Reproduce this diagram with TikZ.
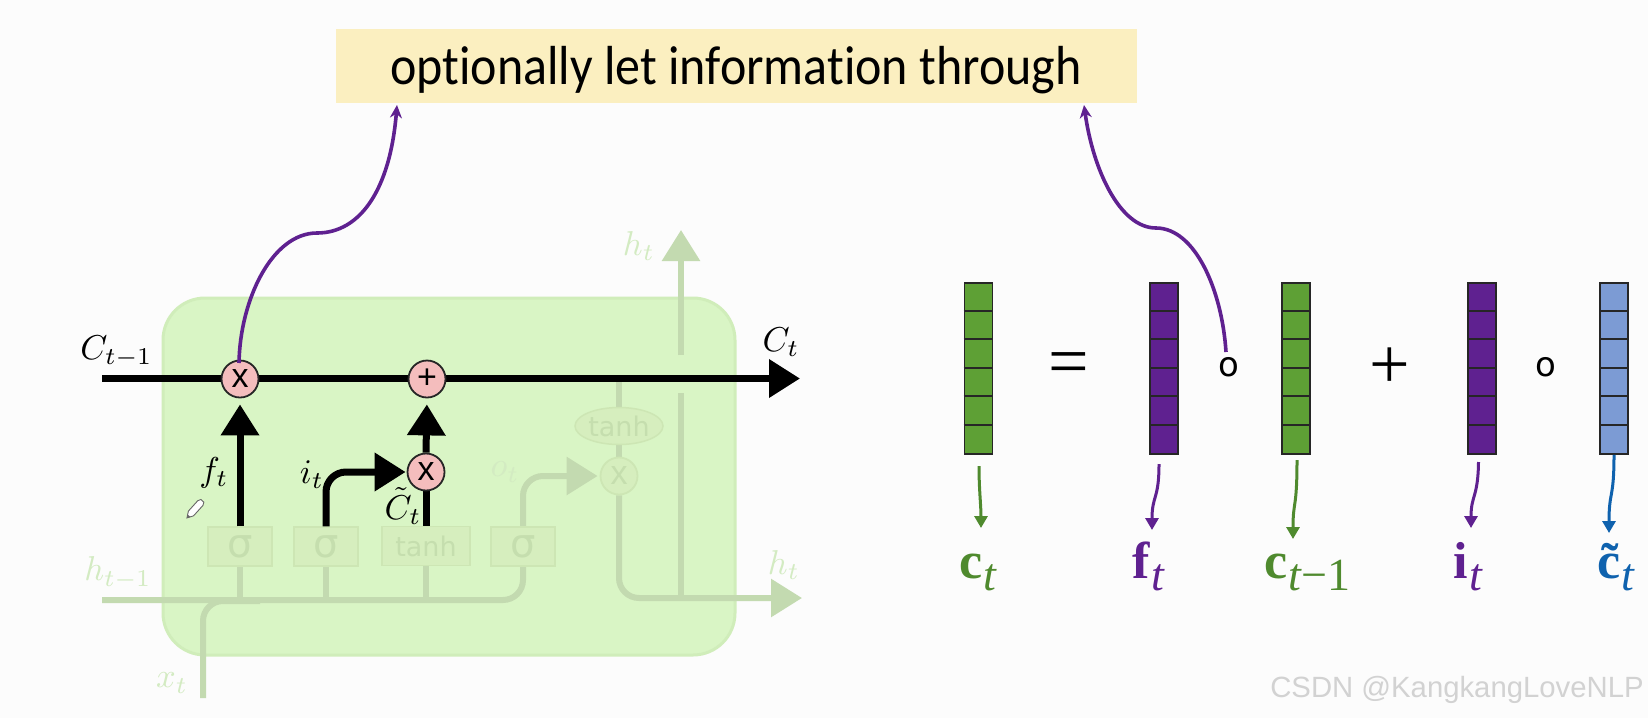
\documentclass[tikz,border=0pt]{standalone}
\usepackage{fontspec}
\setmainfont{Liberation Serif}
\newfontfamily\calfont[Ligatures=NoCommon]{Carlito}
\newfontfamily\dvfont{DejaVu Sans}
\newfontfamily\lsfont{Liberation Sans}
\usetikzlibrary{arrows.meta,shapes.geometric,calc}
\pgfdeclarelayer{back}
\pgfdeclarelayer{fline}
\pgfdeclarelayer{fnode}
\pgfdeclarelayer{bline}
\pgfsetlayers{back,fline,fnode,bline,main}
\definecolor{bgc}{HTML}{FCFCFC}
\definecolor{topc}{HTML}{FBEFC0}
\definecolor{cellc}{HTML}{D9F5C5}
\definecolor{celle}{HTML}{D0EDBA}
\definecolor{fadel}{HTML}{C3DAB0}
\definecolor{fadet}{HTML}{D3EBC2}
\definecolor{fadeb}{HTML}{D6EEBE}
\definecolor{fadee}{HTML}{CDE6B4}
\definecolor{fadetx}{HTML}{C5DEAE}
\definecolor{pinkc}{HTML}{F4BDBD}
\definecolor{purp}{HTML}{5F2190}
\definecolor{grnb}{HTML}{5EA035}
\definecolor{grnl}{HTML}{4F8A2E}
\definecolor{blub}{HTML}{7C9BD4}
\definecolor{blul}{HTML}{0F62AE}
\definecolor{wm}{HTML}{D2D2D2}
\tikzset{
  blk/.style={line width=7pt,black},
  blktip/.style={-{Triangle[length=31pt,width=37pt]}},
  fad/.style={line width=6pt,fadel},
  fadtip/.style={-{Triangle[length=31pt,width=37pt]}},
  opcirc/.style={circle,draw=black!85,line width=1.8pt,fill=pinkc,minimum size=37pt,inner sep=0pt,font=\lsfont\fontsize{34}{34}\selectfont},
  fadcirc/.style={circle,draw=fadee,line width=1.8pt,fill=fadeb,minimum size=37pt,inner sep=0pt,text=fadetx,font=\lsfont\fontsize{34}{34}\selectfont},
  fadbox/.style={rectangle,draw=fadee,line width=1.5pt,fill=fadeb,inner sep=0pt,minimum height=39pt,text=fadetx,font=\dvfont\fontsize{27}{27}\selectfont},
  sigbox/.style={fadbox,minimum width=64pt,font=\dvfont\fontsize{40}{40}\selectfont},
  mlab/.style={scale=3.45,inner sep=0pt},
  fadlab/.style={mlab,text=fadet},
  barc/.style={rectangle,draw=black!85,line width=1.6pt,minimum width=28pt,minimum height=171pt,inner sep=0pt},
  small/.style={line width=3pt,-{Triangle[length=12pt,width=13pt]}},
  bigsym/.style={inner sep=0pt,font=\fontsize{72}{72}\selectfont},
  ringsym/.style={inner sep=0pt,font=\dvfont\fontsize{34}{34}\selectfont},
  vlab/.style={inner sep=0pt,anchor=base west,font=\fontsize{52}{52}\selectfont\bfseries},
  curvep/.style={purp,line width=3.6pt,-{Stealth[length=13pt,width=12pt]}},
}
\newcommand{\cellgrid}[1]{%
  \foreach \k in {1,...,5} \draw[black!85,line width=1.6pt]
    ($(#1.north west)+(0,28.5*\k)$) -- ($(#1.north east)+(0,28.5*\k)$);}
\newcommand{\subt}[1]{{\normalfont\fontsize{46}{46}\selectfont\kern1.5pt\raisebox{-12pt}{#1}}}
\begin{document}
\begin{tikzpicture}[x=1pt,y=-1pt]
\useasboundingbox (0,0) rectangle (1648,718);
\begin{pgfonlayer}{back}
\fill[bgc] (0,0) rectangle (1648,718);
\node[rectangle,rounded corners=42pt,fill=cellc,draw=celle,line width=3pt,minimum width=572pt,minimum height=357pt] (cell) at (449,476.5) {};
\end{pgfonlayer}
% top banner
\node[rectangle,fill=topc,minimum width=801pt,minimum height=74pt,inner sep=0pt] (banner) at (736.5,66) {};
\node[inner sep=0pt,anchor=base,font=\calfont\fontsize{50}{50}\selectfont] (btext) at (736,84) {\scalebox{1}[1.1]{optionally let information through}};
% faded nodes
\begin{pgfonlayer}{fnode}
\node[sigbox] (s1) at (240,546.5) {σ};
\node[sigbox] (s2) at (326,546.5) {σ};
\node[fadbox,minimum width=88pt] (tanhb) at (426,546) {tanh};
\node[sigbox] (s3) at (523,546.5) {σ};
\node[ellipse,draw=fadee,line width=1.5pt,fill=fadeb,minimum width=88pt,minimum height=37pt,inner sep=0pt,text=fadetx,font=\dvfont\fontsize{27}{27}\selectfont] (tanhe) at (619,426) {tanh};
\node[fadcirc] (mul3) at (619,476) {x};
\end{pgfonlayer}
\coordinate (hl) at (102,600);
\coordinate (hr) at (802,598);
\coordinate (xb) at (203,698);
\coordinate (hj) at (681,598);
\coordinate (hgl) at (681,393);
\coordinate (hgu) at (681,355);
\coordinate (htop) at (681,230);
\coordinate (xj) at (260,601);
\coordinate (cl) at (102,378.5);
\coordinate (cr) at (800,378.5);
\begin{pgfonlayer}{fline}
\draw[fad,rounded corners=20pt] (hl) -- (523,600) -- (s3.south);
\draw[fad,rounded corners=20pt] (xb) -- (203,601) -- (xj);
\draw[fad] (s1.south) -- (240,600);
\draw[fad] (s2.south) -- (326,600);
\draw[fad] (tanhb.south) -- (426,600);
\draw[fad,rounded corners=20pt,fadtip] (mul3.south) -- (619,598) -- (hr);
\draw[fad] (hj) -- (hgl);
\draw[fad,fadtip] (hgu) -- (htop);
\draw[fad,rounded corners=20pt,fadtip,shorten >=2pt] (s3.north) |- (mul3.west);
\draw[fad] (tanhe.north) -- (619,382);
\draw[fad] (tanhe.south) -- (mul3.north);
\end{pgfonlayer}
% labels faded
\node[fadlab] (lho) at (118,573) {$h_{t-1}$};
\node[fadlab] (lx) at (172,683) {$x_t$};
\node[fadlab] (lo) at (505,472) {$o_t$};
\node[fadlab] (lh1) at (639,246) {$h_t$};
\node[fadlab] (lh2) at (784,565) {$h_t$};
% black
\node[opcirc] (mul1) at (240,379) {x};
\node[opcirc] (add) at (427,379) {+};
\node[opcirc] (mul2) at (426,472) {x};
\begin{pgfonlayer}{bline}
\draw[blk,blktip] (cl) -- (cr);
\draw[blk,blktip,shorten >=6pt] (s1.north) -- (mul1.south);
\draw[blk] (tanhb.north) -- (mul2.south);
\draw[blk,blktip,shorten >=6pt] (mul2.north) -- (add.south);
\draw[blk,blktip,rounded corners=20pt,shorten >=1pt] (s2.north) |- (mul2.west);
\end{pgfonlayer}
\node[mlab] (lc0) at (116.5,352) {$C_{t-1}$};
\node[mlab] (lf) at (214,473) {$f_t$};
\node[mlab] (li) at (312,475) {$i_t$};
\node[mlab] (lct) at (403,506) {$\tilde C_t$};
\node[mlab] (lc1) at (781,342) {$C_t$};
% pencil
\begin{scope}[shift={(195,509)},rotate=48]
\fill[white,draw=black!60,line width=.9pt] (-6,-3.5) -- (8,-3.5) -- (11,-2) -- (11,2) -- (8,3.5) -- (-6,3.5) -- (-12,0) -- cycle;
\fill[black!60] (-12,0) -- (-9,-1.6) -- (-9,1.6) -- cycle;
\end{scope}
% bars
\node[barc,fill=grnb] (b1) at (978.5,368.5) {};
\node[barc,fill=purp] (b2) at (1164,368.5) {};
\node[barc,fill=grnb] (b3) at (1296,368.5) {};
\node[barc,fill=purp] (b4) at (1482,368.5) {};
\node[barc,fill=blub] (b5) at (1614,368.5) {};
\cellgrid{b1}\cellgrid{b2}\cellgrid{b3}\cellgrid{b4}\cellgrid{b5}
\node[bigsym] (eq) at (1069,369) {=};
\node[bigsym] (pl) at (1390,368) {+};
\node[ringsym] (o1) at (1229,367) {o};
\node[ringsym] (o2) at (1546,367) {o};
% vector labels
\node[vlab,text=grnl] (vc) at (959,578) {c\subt{\itshape t}};
\node[vlab,text=purp] (vf) at (1132,578) {f\subt{\itshape t}};
\node[vlab,text=grnl] (vc1) at (1264,578) {c\subt{\itshape t\upshape −1}};
\node[vlab,text=purp] (vi) at (1453,578) {i\subt{\itshape t}};
\node[vlab,text=blul] (vct) at (1597,578) {\~c\subt{\itshape t}};
% small arrows
\coordinate (a1) at (979,466); \coordinate (a2) at (981,528);
\coordinate (f1) at (1159,464); \coordinate (f2) at (1152,530);
\coordinate (g1) at (1297,460); \coordinate (g2) at (1293,539);
\coordinate (i1) at (1478.5,462); \coordinate (i2) at (1471,528);
\coordinate (t2) at (1609,533);
\draw[small,grnl] (a1) .. controls (979,490) and (981,505) .. (a2);
\draw[small,purp] (f1) .. controls (1159,500) and (1152,495) .. (f2);
\draw[small,grnl] (g1) .. controls (1297,510) and (1293,500) .. (g2);
\draw[small,purp] (i1) .. controls (1478,498) and (1471,495) .. (i2);
\draw[small,blul] (b5.south) .. controls (1614,500) and (1609,490) .. (t2);
% purple curves
\coordinate (pa) at (397,105);
\coordinate (pb) at (1084,105);
\coordinate (pc) at (1226,352);
\coordinate (pm1) at (317,233);
\coordinate (pm2) at (1156,228);
\draw[curvep] (mul1.center) ++(-1,-16) .. controls (240,300) and (272,233) .. (pm1) .. controls (360,233) and (390,190) .. (pa);
\draw[curvep] (pc) .. controls (1222,290) and (1195,228) .. (pm2) .. controls (1120,228) and (1093,170) .. (pb);
% watermark
\node[inner sep=0pt,text=wm,font=\lsfont\fontsize{29.3}{30}\selectfont] (wmk) at (1457,690) {CSDN @KangkangLoveNLP};
\end{tikzpicture}
\end{document}
